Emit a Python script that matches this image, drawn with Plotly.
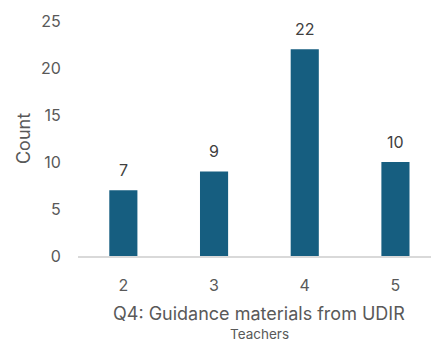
import plotly.graph_objects as go

# Response counts per rating
ratings = [2, 3, 4, 5]
counts = [7, 9, 22, 10]
tick_labels = ["2", "3", "4", "5"]
y_ticks = [0, 5, 10, 15, 20, 25]

bar_color = "#165E80"
text_color = "#595959"
font_family = "Inter, Open Sans, Liberation Sans, Arial, sans-serif"

W, H = 431, 343
left, top, bottom = 78, 21, 87
plot_w = W - left

fig = go.Figure()
fig.add_trace(go.Bar(
    x=ratings, y=counts, width=0.31,
    marker=dict(color=bar_color, line=dict(width=0)),
    hoverinfo="skip",
))

# value labels above each bar
for r, c in zip(ratings, counts):
    fig.add_annotation(x=r, y=c, text=str(c), showarrow=False,
                       yanchor="bottom", yshift=8,
                       font=dict(size=16, color="#404040", family=font_family))

# axis titles, centered on the category span
fig.add_annotation(x=3.5, xref="x", y=-0.245, yref="paper",
                   text="Q4: Guidance materials from UDIR", showarrow=False,
                   yanchor="middle",
                   font=dict(size=18, color=text_color, family=font_family))
fig.add_annotation(x=3.5, xref="x", y=-0.33, yref="paper",
                   text="Teachers", showarrow=False, yanchor="middle",
                   font=dict(size=13.5, color=text_color, family=font_family))

# category spacing: one unit per ~90.7 px, plot area runs past the right edge
unit_px = 90.7
x_max = 1.5 + plot_w / unit_px

fig.update_layout(
    width=W, height=H,
    margin=dict(l=left, r=0, t=top, b=bottom, pad=0),
    plot_bgcolor="white", paper_bgcolor="white",
    showlegend=False,
    font=dict(family=font_family, color=text_color, size=16),
    xaxis=dict(
        range=[1.5, x_max], tickvals=ratings, ticktext=tick_labels,
        showgrid=False, zeroline=False,
        showline=True, linecolor="#D9D9D9", linewidth=1.5,
        ticks="", ticklabelstandoff=14,
        tickfont=dict(size=16, color=text_color),
        fixedrange=True,
    ),
    yaxis=dict(
        range=[0, 25], tickvals=y_ticks,
        showgrid=False, zeroline=False, showline=False,
        ticks="outside", ticklen=13, tickcolor="rgba(0,0,0,0)",
        tickfont=dict(size=16, color=text_color),
        title=dict(text="Count", standoff=5,
                   font=dict(size=18, color=text_color)),
        fixedrange=True,
    ),
)

fig.write_html("out.html")
